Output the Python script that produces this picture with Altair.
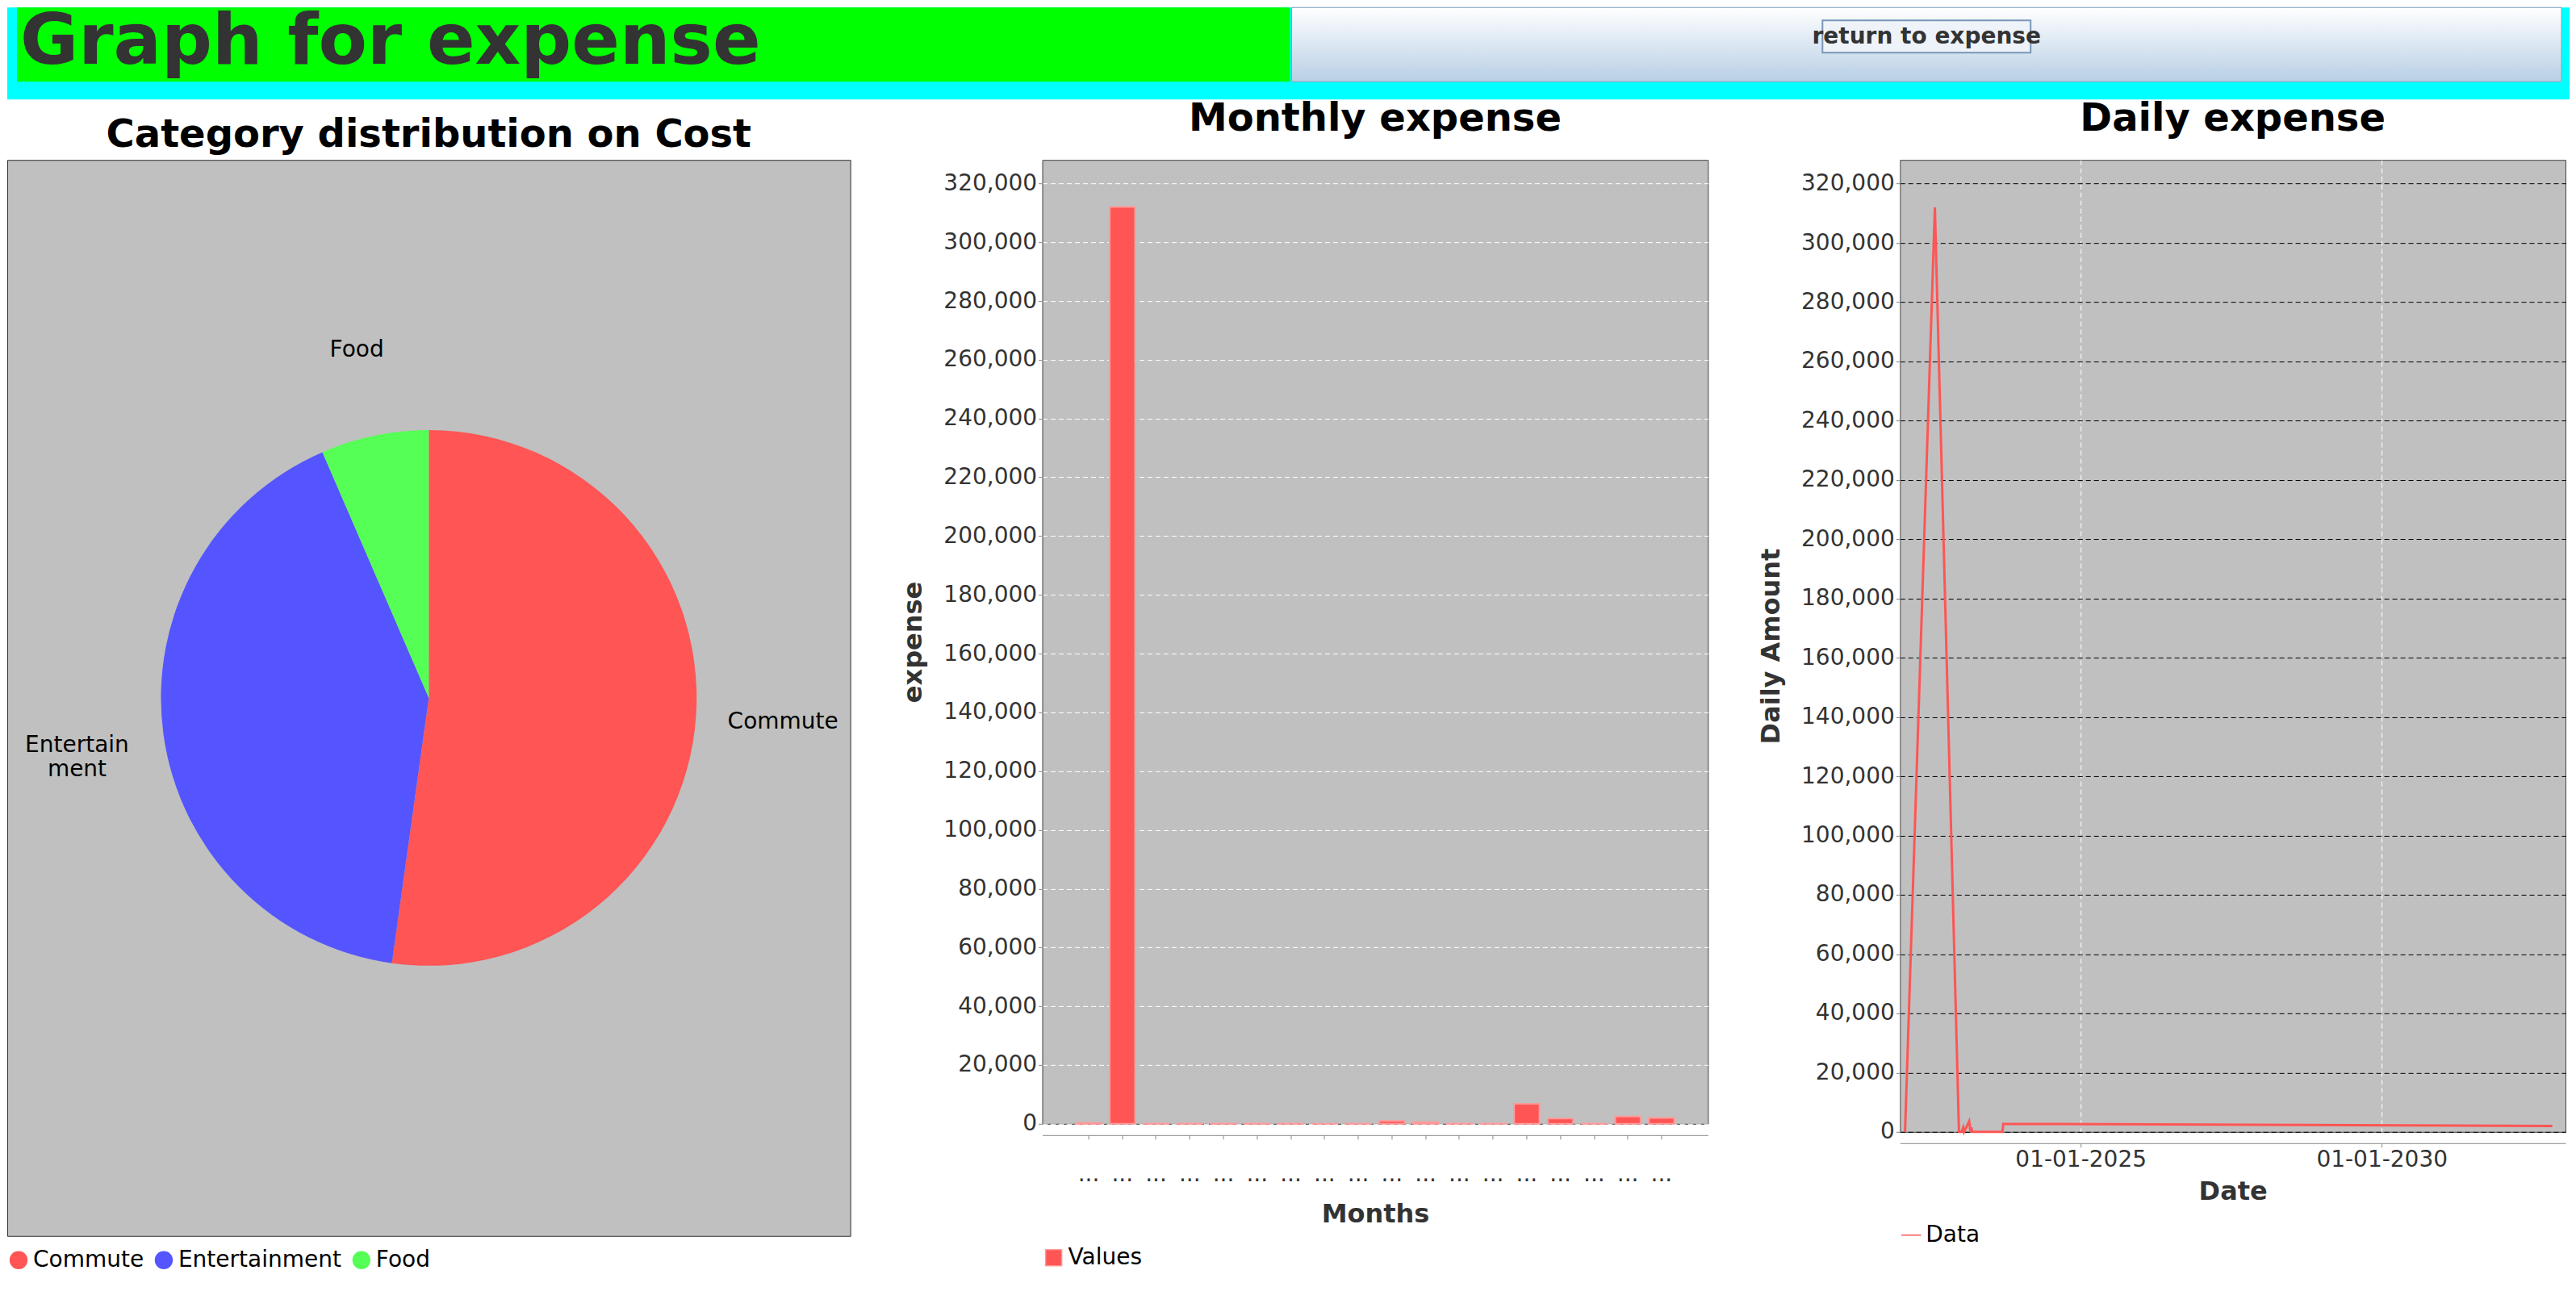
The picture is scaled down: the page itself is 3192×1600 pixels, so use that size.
import pandas as pd
import altair as alt

FONT = "DejaVu Sans"

# pie data
categories = ["Commute", "Entertainment", "Food"]
category_cost = [52.2, 41.3, 6.5]
category_colors = ["#FF5555", "#5555FF", "#55FF55"]
pie_labels = ["Commute", "Entertain\nment", "Food"]

# monthly data
months = ["2022-02", "2022-08", "2022-09", "2022-10", "2022-11", "2022-12", "2023-01", "2023-02", "2023-03",
          "2023-04", "2023-05", "2023-06", "2023-07", "2023-08", "2023-09", "2023-10", "2023-11", "2023-12"]
monthly_amount = [300, 312000, 100, 100, 100, 100, 100, 0, 100,
                  1000, 600, 100, 100, 6800, 1800, 100, 2500, 2000]

# daily data
days = ["2022-02-01", "2022-08-01", "2022-12-25", "2023-01-10", "2023-01-20", "2023-01-25",
        "2023-02-25", "2023-03-05", "2023-03-10", "2023-03-15", "2023-09-15", "2023-09-20", "2032-11-01"]
daily_amount = [0, 312000, 0, 0, 1500, 0, 3600, 0, 1500, 0, 0, 2700, 2000]

pie_df = pd.DataFrame({"Category": categories, "Cost": category_cost, "Label": pie_labels})
month_df = pd.DataFrame({"Month": months, "Amount": monthly_amount, "Series": "Values"})
day_df = pd.DataFrame({"Date": pd.to_datetime(days), "Amount": daily_amount, "Series": "Data"})

### header band
header_base = alt.Chart(pd.DataFrame({"a": [0]}))
green = header_base.mark_rect(color="#00FF00").encode(
    x=alt.value(12), x2=alt.value(1590), y=alt.value(0), y2=alt.value(92))
button = header_base.mark_rect(
    color=alt.Gradient(gradient="linear", x1=0, x2=0, y1=0, y2=1,
                       stops=[alt.GradientStop(color="#FFFFFF", offset=0),
                              alt.GradientStop(color="#B8CFE5", offset=1)]),
    stroke="#8AA0B8").encode(x=alt.value(1592), x2=alt.value(3166), y=alt.value(0), y2=alt.value(92))
button_box = header_base.mark_rect(fill="#EEF3F9", stroke="#7A96B8", strokeWidth=2).encode(
    x=alt.value(2250), x2=alt.value(2508), y=alt.value(16), y2=alt.value(56))
title_text = header_base.mark_text(text="Graph for expense", font=FONT, fontSize=88, fontWeight="bold",
                                   color="#333333", align="left", baseline="middle").encode(
    x=alt.value(16), y=alt.value(44))
button_text = header_base.mark_text(text="return to expense", font=FONT, fontSize=28, fontWeight="bold",
                                    color="#333333").encode(x=alt.value(2379), y=alt.value(37))
header = (green + button + button_box + title_text + button_text).properties(
    width=3176, height=114, view=alt.ViewConfig(fill="#00FFFF", stroke=None))

### pie
color_scale = alt.Scale(domain=categories, range=category_colors)
shadow = alt.Chart(pd.DataFrame({"v": [1]})).mark_arc(color="#808080", outerRadius=332).encode(
    theta="v:Q", x=alt.value(531), y=alt.value(675))
arcs = alt.Chart(pie_df).mark_arc(outerRadius=332).encode(
    theta=alt.Theta("Cost:Q", stack=True),
    color=alt.Color("Category:N", scale=color_scale,
                    legend=alt.Legend(orient="bottom", title=None, symbolType="circle", labelFontSize=28,
                                      symbolSize=500, labelFont=FONT, offset=16, labelLimit=0)),
    order=alt.Order("Category:N"))
labels = alt.Chart(pie_df).mark_text(radius=440, font=FONT, fontSize=28, color="black",
                                     lineBreak="\n").encode(
    theta=alt.Theta("Cost:Q", stack=True), text="Label:N", order=alt.Order("Category:N"))
pie = (shadow + arcs + labels).properties(
    width=1045, height=1334,
    title=alt.TitleParams("Category distribution on Cost", fontSize=48, font=FONT, offset=6),
    view=alt.ViewConfig(fill="#C0C0C0", stroke="#333333"))

### monthly bars
axis_common = dict(labelFont=FONT, titleFont=FONT, labelFontSize=28, titleFontSize=32,
                   labelColor="#333333", titleColor="#333333", domainColor="#888888", tickColor="#888888")
bars = alt.Chart(month_df).mark_bar(color="#FF5555", stroke="#FF9999", strokeWidth=2).encode(
    x=alt.X("Month:N", title="Months", scale=alt.Scale(paddingInner=0.25, paddingOuter=1.0),
            axis=alt.Axis(labelExpr="'...'", labelAngle=0, grid=False, offset=14, labelPadding=30,
                          titlePadding=20, **axis_common)),
    y=alt.Y("Amount:Q", title="expense", scale=alt.Scale(domain=[0, 328000], nice=False),
            axis=alt.Axis(values=list(range(0, 320001, 20000)), format=",d", gridColor="white",
                          gridDash=[6, 4], titlePadding=20, **axis_common)),
    color=alt.Color("Series:N", scale=alt.Scale(range=["#FF5555"]),
                    legend=alt.Legend(orient="bottom", title=None, symbolType="square", labelFontSize=28,
                                      symbolSize=400, labelFont=FONT, offset=24)))
bar_chart = bars.properties(
    width=825, height=1195,
    title=alt.TitleParams("Monthly expense", fontSize=48, font=FONT, offset=26),
    view=alt.ViewConfig(fill="#C0C0C0", stroke="#444444"))

### daily line
line = alt.Chart(day_df).mark_line(strokeWidth=3).encode(
    x=alt.X("Date:T", title="Date",
            scale=alt.Scale(domain=["2022-01-01", "2033-01-20"]),
            axis=alt.Axis(values=["2025-01-01", "2030-01-01"], format="%d-%m-%Y", gridColor="white",
                          gridDash=[6, 4], offset=14, titlePadding=10, **axis_common)),
    y=alt.Y("Amount:Q", title="Daily Amount", scale=alt.Scale(domain=[0, 328000], nice=False),
            axis=alt.Axis(values=list(range(0, 320001, 20000)), format=",d", gridColor="black",
                          gridDash=[6, 4], titlePadding=20, **axis_common)),
    color=alt.Color("Series:N", scale=alt.Scale(range=["#FF5555"]),
                    legend=alt.Legend(orient="bottom", title=None, symbolType="stroke", labelFontSize=28,
                                      symbolSize=600, labelFont=FONT, offset=24)))
line_chart = line.properties(
    width=825, height=1205,
    title=alt.TitleParams("Daily expense", fontSize=48, font=FONT, offset=26),
    view=alt.ViewConfig(fill="#C0C0C0", stroke="#444444"))

panels = alt.hconcat(pie, bar_chart, line_chart, spacing=60).resolve_scale(color="independent")
chart = alt.vconcat(header, panels, spacing=0).configure(padding=0, background="white").configure_title(
    color="black", fontWeight="bold")

chart.save("out.html", embed_options={"renderer": "svg", "actions": False})
